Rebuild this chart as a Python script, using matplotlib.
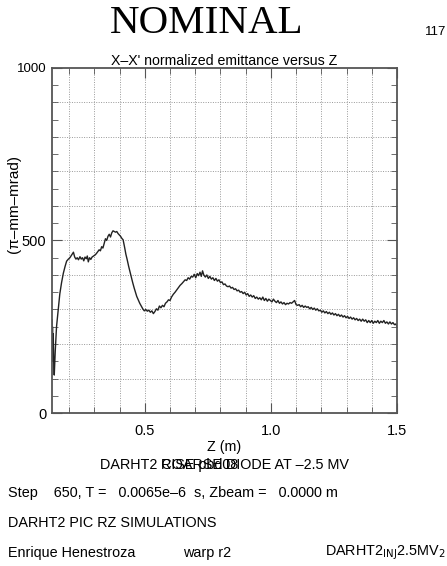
import numpy as np
import matplotlib
matplotlib.use('Agg')
import matplotlib.pyplot as plt
from matplotlib.ticker import MultipleLocator

plt.rcParams['font.family'] = ['Liberation Sans', 'DejaVu Sans']

# emittance vs z
z_m = [0.132, 0.133, 0.134, 0.135, 0.137, 0.139, 0.141, 0.145, 0.150, 0.157, 0.163, 0.170,
       0.177, 0.184, 0.190, 0.197, 0.203, 0.210, 0.217, 0.222, 0.227, 0.232, 0.237, 0.243,
       0.248, 0.253, 0.258, 0.263, 0.268, 0.272, 0.276, 0.281, 0.286, 0.291, 0.297, 0.303,
       0.308, 0.314, 0.319, 0.324, 0.329, 0.334, 0.339, 0.344, 0.349, 0.354, 0.359, 0.364,
       0.369, 0.374, 0.379, 0.384, 0.389, 0.394, 0.399, 0.404, 0.409, 0.414, 0.420, 0.425,
       0.430, 0.436, 0.441, 0.447, 0.452, 0.458, 0.463, 0.468, 0.474, 0.480, 0.486, 0.492,
       0.498, 0.504, 0.510, 0.516, 0.522, 0.528, 0.534, 0.540, 0.546, 0.552, 0.558, 0.564,
       0.570, 0.576, 0.582, 0.588, 0.594, 0.600, 0.606, 0.613, 0.620, 0.627, 0.634, 0.640,
       0.647, 0.653, 0.660, 0.666, 0.672, 0.678, 0.684, 0.690, 0.696, 0.702, 0.708, 0.713,
       0.719, 0.724, 0.729, 0.734, 0.740, 0.746, 0.752, 0.758, 0.764, 0.770, 0.776, 0.782,
       0.788, 0.794, 0.800, 0.806, 0.812, 0.818, 0.824, 0.830, 0.836, 0.842, 0.848, 0.854,
       0.860, 0.866, 0.872, 0.878, 0.884, 0.890, 0.896, 0.902, 0.908, 0.914, 0.920, 0.926,
       0.932, 0.938, 0.944, 0.950, 0.956, 0.962, 0.968, 0.974, 0.980, 0.986, 0.992, 0.998,
       1.004, 1.010, 1.016, 1.022, 1.028, 1.034, 1.040, 1.046, 1.052, 1.058, 1.064, 1.070,
       1.076, 1.082, 1.088, 1.094, 1.100, 1.106, 1.112, 1.118, 1.124, 1.130, 1.136, 1.142,
       1.148, 1.154, 1.160, 1.166, 1.172, 1.178, 1.184, 1.190, 1.196, 1.202, 1.208, 1.214,
       1.220, 1.226, 1.232, 1.238, 1.244, 1.250, 1.256, 1.262, 1.268, 1.274, 1.280, 1.286,
       1.292, 1.298, 1.304, 1.310, 1.316, 1.322, 1.328, 1.334, 1.340, 1.346, 1.352, 1.358,
       1.364, 1.370, 1.376, 1.382, 1.388, 1.394, 1.400, 1.406, 1.412, 1.418, 1.424, 1.430,
       1.436, 1.442, 1.448, 1.454, 1.460, 1.466, 1.472, 1.478, 1.484, 1.490, 1.496, 1.500]
emittance = [270, 150, 250, 180, 230, 140, 110, 180, 250, 300, 345, 378,
             405, 425, 440, 446, 450, 458, 466, 452, 446, 450, 444, 453,
             446, 450, 441, 452, 447, 455, 438, 450, 445, 452, 455, 458,
             462, 468, 473, 470, 482, 478, 492, 505, 500, 512, 518, 510,
             522, 528, 526, 524, 526, 520, 516, 512, 506, 502, 480, 460,
             445, 425, 410, 392, 378, 362, 350, 338, 328, 318, 310, 302,
             296, 300, 295, 298, 292, 296, 288, 294, 302, 298, 310, 305,
             312, 308, 318, 322, 328, 326, 336, 344, 350, 357, 364, 370,
             375, 380, 386, 384, 392, 388, 396, 394, 402, 392, 404, 398,
             408, 396, 412, 400, 394, 400, 390, 396, 388, 392, 384, 390,
             382, 386, 378, 380, 372, 374, 368, 366, 368, 362, 364, 358,
             360, 354, 356, 350, 352, 346, 350, 342, 346, 338, 342, 336,
             340, 332, 336, 330, 334, 328, 336, 326, 332, 324, 330, 326,
             322, 330, 324, 320, 326, 318, 322, 316, 320, 314, 318, 316,
             320, 318, 322, 326, 314, 312, 314, 308, 312, 306, 310, 306,
             308, 302, 306, 300, 304, 298, 302, 296, 298, 292, 296, 290,
             294, 288, 292, 286, 290, 284, 288, 282, 286, 280, 284, 278,
             282, 276, 280, 274, 278, 272, 276, 270, 274, 268, 272, 266,
             272, 266, 270, 262, 268, 262, 268, 260, 266, 262, 268, 260,
             266, 262, 268, 260, 264, 258, 264, 258, 262, 256, 258, 250]

x_ticks = [0.5, 1.0, 1.5]
x_labels = ['0.5', '1.0', '1.5']
y_ticks = [0, 500, 1000]
y_labels = ['0', '500', '1000']


def main():
    fig = plt.figure(figsize=(4.47, 5.66), dpi=100)
    ax = fig.add_axes([0.1163, 0.2703, 0.7718, 0.6097])

    ax.plot(z_m, emittance, color='#222222', linewidth=1.0)

    ax.set_xlim(0.132, 1.5)
    ax.set_ylim(0, 1000)
    ax.set_xticks(x_ticks)
    ax.set_xticklabels(x_labels)
    ax.set_yticks(y_ticks)
    ax.set_yticklabels(y_labels)
    ax.xaxis.set_minor_locator(MultipleLocator(0.1))
    ax.yaxis.set_minor_locator(MultipleLocator(50))

    # dotted grid every 0.1 m and every 100 units
    for gx in np.arange(0.2, 1.5, 0.1):
        ax.axvline(gx, color='#999999', linestyle=(0, (1, 1.5)), linewidth=0.7, zorder=0)
    for gy in np.arange(100, 1000, 100):
        ax.axhline(gy, color='#999999', linestyle=(0, (1, 1.5)), linewidth=0.7, zorder=0)

    ax.tick_params(which='both', direction='in', top=True, right=True, labelsize=10.5,
                   color='#555555')
    ax.tick_params(which='major', length=7)
    ax.tick_params(which='minor', length=4)
    ax.tick_params(axis='x', pad=8)
    ax.tick_params(axis='y', pad=4)
    for lab, size in zip(ax.get_yticklabels(), [10.5, 10.5, 9.5]):
        lab.set_fontsize(size)
    for s in ax.spines.values():
        s.set_color('#555555')
        s.set_linewidth(1.3)

    ax.set_title("X\u2013X' normalized emittance versus Z", fontsize=10.2, pad=2)
    ax.set_xlabel('Z (m)', fontsize=10.3, labelpad=1)
    fig.text(0.032, 0.64, '(\u03c0\u2013mm\u2013mrad)', rotation=90, fontsize=11,
             ha='center', va='center')

    fig.text(0.462, 0.959, 'NOMINAL', family='Liberation Serif', fontsize=29.5,
             ha='center', va='center')
    fig.text(0.951, 0.944, '117', fontsize=9.5, ha='left', va='center')

    # two labels printed on top of each other in the original
    fig.text(0.502, 0.178, 'DARHT2 COARSE DIODE AT \u20132.5 MV', fontsize=10.4,
             ha='center', va='center')
    fig.text(0.447, 0.178, 'RISE pbd08', fontsize=10.4, ha='center', va='center')

    fig.text(0.018, 0.129, 'Step    650, T =   0.0065e\u20136  s, Zbeam =   0.0000 m',
             fontsize=10.4, ha='left', va='center')
    fig.text(0.018, 0.076, 'DARHT2 PIC RZ SIMULATIONS', fontsize=10.4, ha='left', va='center')
    fig.text(0.018, 0.023, 'Enrique Henestroza', fontsize=10.4, ha='left', va='center')
    fig.text(0.41, 0.023, 'warp r2', fontsize=10.4, ha='left', va='center')
    fig.text(0.727, 0.023, r'DARHT2$_{\mathrm{INJ}}$2.5MV$_2$', fontsize=10.4,
             ha='left', va='center')

    fig.savefig('out.png', dpi=100)


if __name__ == '__main__':
    main()
